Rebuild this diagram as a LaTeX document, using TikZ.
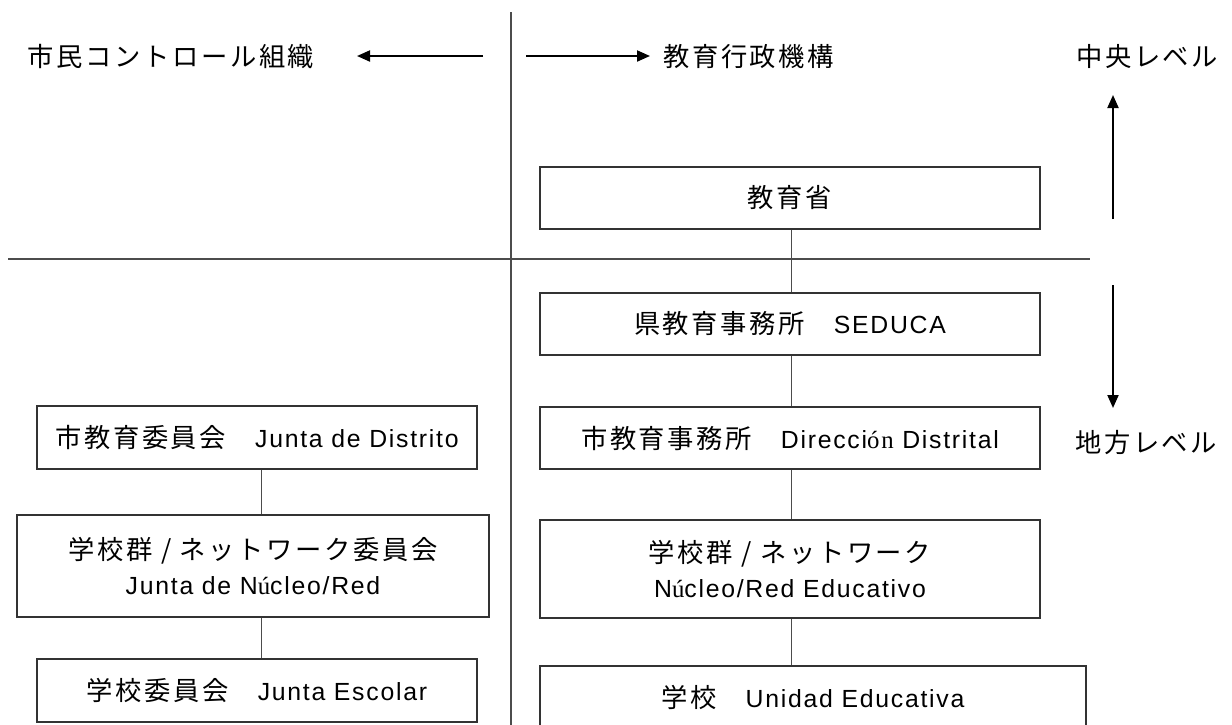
\documentclass[tikz,border=0pt]{standalone}
\usepackage{fontspec}
\setmainfont{Liberation Sans}[LetterSpace=7]
\newfontfamily\jp{Noto Sans CJK JP}[Scale=1.06,LetterSpace=10]
\newfontfamily\srf{Liberation Serif}[LetterSpace=7]
\usetikzlibrary{arrows.meta}
\tikzset{
  box/.style={draw=black!80, line width=1.4pt, inner sep=0pt, align=center, fill=white},
  lbl/.style={inner sep=0pt},
  divider/.style={draw=black!70, line width=1.2pt},
  conn/.style={draw=black!70, line width=1pt},
  levarrow/.style={draw=black, line width=2pt, -{Triangle[length=13pt,width=11pt]}},
}
\begin{document}
\begin{tikzpicture}[x=1pt,y=-1pt,font=\fontsize{24.8}{35}\selectfont]
\useasboundingbox (0,0) rectangle (1232,724);
\clip (0,0) rectangle (1232,724);
\fill[white] (0,0) rectangle (1232,724);

% dividers
\coordinate (vtop) at (511,12);
\coordinate (vbot) at (511,730);
\coordinate (hleft) at (8,259);
\coordinate (hright) at (1090,259);
\draw[divider] (vtop) -- (vbot);
\draw[divider] (hleft) -- (hright);

% header labels
\node[lbl] (civ) at (171,57) {\jp 市民コントロール組織};
\node[lbl,anchor=west] (adm) at (663,57) {\jp 教育行政機構};
\node[lbl,anchor=west] (central) at (1076,57) {\jp 中央レベル};
\node[lbl,anchor=west] (local) at (1075,443) {\jp 地方レベル};

% header arrows
\coordinate (la1) at (483,56);
\coordinate (la2) at (357,56);
\coordinate (ra1) at (526,56);
\coordinate (ra2) at (650,56);
\draw[levarrow] (la1) -- (la2);
\draw[levarrow] (ra1) -- (ra2);
\coordinate (ua1) at (1113,219);
\coordinate (ua2) at (1113,95);
\coordinate (da1) at (1113,285);
\coordinate (da2) at (1113,408);
\draw[levarrow] (ua1) -- (ua2);
\draw[levarrow] (da1) -- (da2);

% right column
\coordinate (cx) at (791,0);
\node[box, minimum width=500, minimum height=62] (r1) at (790,198) {\jp 教育省};
\node[box, minimum width=500, minimum height=62] (r2) at (790,324) {\jp 県教育事務所　\rmfamily SEDUCA};
\node[box, minimum width=500, minimum height=62] (r3) at (790,438) {\jp 市教育事務所　\rmfamily Direcci{\srf ón} Distrital};
\node[box, minimum width=500, minimum height=98] (r4) at (790,569) {\jp 学校群 / ネットワーク\\\rmfamily N{\srf ú}cleo/Red Educativo};
\node[box, minimum width=546, minimum height=62] (r5) at (813,697) {\jp 学校　\rmfamily Unidad Educativa};

\draw[conn] (r1.south -| cx) -- (r2.north -| cx);
\draw[conn] (r2.south -| cx) -- (r3.north -| cx);
\draw[conn] (r3.south -| cx) -- (r4.north -| cx);
\draw[conn] (r4.south -| cx) -- (r5.north -| cx);

% left column
\coordinate (lx) at (261,0);
\node[box, minimum width=440, minimum height=63] (l1) at (257,437.5) {\jp 市教育委員会　\rmfamily Junta de Distrito};
\node[box, minimum width=472, minimum height=102] (l2) at (253,566) {\jp 学校群 / ネットワーク委員会\\\rmfamily Junta de N{\srf ú}cleo/Red};
\node[box, minimum width=440, minimum height=63] (l3) at (257,690.5) {\jp 学校委員会　\rmfamily Junta Escolar};

\draw[conn] (l1.south -| lx) -- (l2.north -| lx);
\draw[conn] (l2.south -| lx) -- (l3.north -| lx);
\end{tikzpicture}
\end{document}
